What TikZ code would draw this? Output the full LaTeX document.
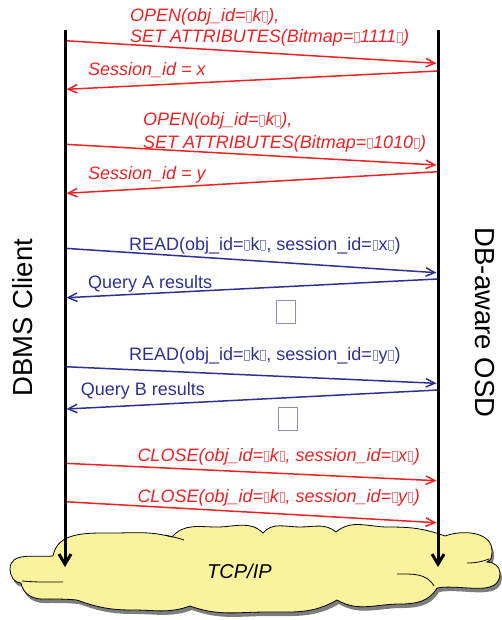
\documentclass[tikz,border=0pt]{standalone}
\usepackage{fontspec}
\setmainfont{Liberation Sans}
\usetikzlibrary{arrows.meta}
\definecolor{msgred}{RGB}{237,34,36}
\definecolor{msgblue}{RGB}{46,49,146}
\definecolor{cloudyellow}{RGB}{250,243,157}
\definecolor{cloudshadow}{RGB}{125,125,125}
\newcommand\ndbox{\kern0.7pt{\color{.!55}\vrule width .45pt height 10.5pt depth 0pt\vbox to 10.5pt{\hrule height .45pt width 4.2pt\vfil\hrule height .45pt width 4.2pt}\vrule width .45pt height 10.5pt depth 0pt}\kern1pt}
\newcommand\cloudoutline{(53,-556) to[out=80,in=180] (112,-533) to[out=0,in=165] (172,-537)
  to[out=50,in=180] (217,-527) to[out=0,in=135] (263,-533)
  to[out=50,in=180] (300,-527) to[out=0,in=140] (336,-532)
  to[out=40,in=180] (388,-527) to[out=0,in=160] (445,-536)
  to[out=20,in=90] (492,-551) to[out=-90,in=20] (487,-562)
  to[out=0,in=90] (500,-573) to[out=-90,in=10] (437,-588)
  to[out=-120,in=0] (400,-604) to[out=180,in=-30] (337,-600)
  to[out=-150,in=0] (267,-612) to[out=180,in=-20] (190,-606)
  to[out=-160,in=0] (133,-610) to[out=180,in=-20] (77,-600)
  to[out=175,in=0] (42,-599) to[out=180,in=-80] (21,-583)
  to[out=180,in=-90] (10,-569) to[out=90,in=185] cycle}
\begin{document}
\begin{tikzpicture}[x=1pt,y=1pt,
  lifeline/.style={line width=3pt,-{Straight Barb[length=10pt,width=12pt]}},
  redmsg/.style={draw=msgred,line width=1.5pt,-{Straight Barb[length=9pt,width=8.5pt]}},
  bluemsg/.style={draw=msgblue,line width=1.5pt,-{Straight Barb[length=9pt,width=8.5pt]}},
  redtxt/.style={text=msgred,font=\fontsize{18}{21}\selectfont\itshape,anchor=base west,inner sep=0pt},
  bluetxt/.style={text=msgblue,font=\fontsize{18}{21}\selectfont,anchor=base west,inner sep=0pt},
  sidelabel/.style={font=\fontsize{27.5}{30}\selectfont,inner sep=0pt},
  ndglyph/.style={draw=msgblue!55,line width=.8pt,minimum width=19pt,minimum height=22.7pt,inner sep=0pt},
  cloudline/.style={draw=black,line width=.8pt}]
\useasboundingbox (0,0) rectangle (501,-620);
% cloud
\fill[cloudshadow,shift={(2,-4)}] \cloudoutline;
\path[fill=cloudyellow,cloudline] \cloudoutline;
\draw[cloudline] (22,-581) to[out=-5,in=180] (63,-582);
\draw[cloudline] (165,-535) to[out=-15,in=160] (184,-540);
\draw[cloudline] (467,-563) to[out=0,in=200] (489,-559);
\draw[cloudline] (397,-574) to[out=0,in=120] (434,-586);
\node[font=\fontsize{20}{24}\selectfont\itshape,anchor=base west,inner sep=0pt] (tcp) at (207,-578) {TCP/IP};
% lifeline ends
\coordinate (ctop) at (65,-30);  \coordinate (cbot) at (65,-567);
\coordinate (otop) at (438,-30); \coordinate (obot) at (438,-567);
% message end points
\coordinate (m1s) at (65,-40.7);    \coordinate (m1e) at (436.5,-63.3);
\coordinate (m2s) at (438,-71);     \coordinate (m2e) at (66.5,-89.3);
\coordinate (m3s) at (65,-144.3);   \coordinate (m3e) at (436.5,-165);
\coordinate (m4s) at (438,-171.7);  \coordinate (m4e) at (66.5,-193.3);
\coordinate (m5s) at (65,-248.3);   \coordinate (m5e) at (436.5,-272.7);
\coordinate (m6s) at (438,-279);    \coordinate (m6e) at (66.5,-297.7);
\coordinate (m7s) at (65,-366.7);   \coordinate (m7e) at (436.5,-383.3);
\coordinate (m8s) at (438,-390);    \coordinate (m8e) at (66.5,-409);
\coordinate (m9s) at (65,-463.3);   \coordinate (m9e) at (436.5,-480.7);
\coordinate (m10s) at (65,-501.7);  \coordinate (m10e) at (436.5,-522.7);
% messages
\draw[redmsg] (m1s) -- (m1e);
\draw[redmsg] (m2s) -- (m2e);
\draw[redmsg] (m3s) -- (m3e);
\draw[redmsg] (m4s) -- (m4e);
\draw[bluemsg] (m5s) -- (m5e);
\draw[bluemsg] (m6s) -- (m6e);
\draw[bluemsg] (m7s) -- (m7e);
\draw[bluemsg] (m8s) -- (m8e);
\draw[redmsg] (m9s) -- (m9e);
\draw[redmsg] (m10s) -- (m10e);
% lifelines
\draw[lifeline] (ctop) -- (cbot);
\draw[lifeline] (otop) -- (obot);
% labels
\node[redtxt] (t1a) at (130,-22) {OPEN(obj\_id=\ndbox k\ndbox),};
\node[redtxt] (t1b) at (130,-42.7) {SET ATTRIBUTES(Bitmap=\ndbox 1111\ndbox)};
\node[redtxt] (t2) at (88,-76) {Session\_id = x};
\node[redtxt] (t3a) at (143,-126) {OPEN(obj\_id=\ndbox k\ndbox),};
\node[redtxt] (t3b) at (143,-148.3) {SET ATTRIBUTES(Bitmap=\ndbox 1010\ndbox)};
\node[redtxt] (t4) at (88,-180) {Session\_id = y};
\node[bluetxt] (t5) at (129,-250) {READ(obj\_id=\ndbox k\ndbox, session\_id=\ndbox x\ndbox)};
\node[bluetxt] (t6) at (88,-288.3) {Query A results};
\node[ndglyph] (gap1) at (286.2,-312) {};
\node[bluetxt] (t7) at (129,-360.7) {READ(obj\_id=\ndbox k\ndbox, session\_id=\ndbox y\ndbox)};
\node[bluetxt] (t8) at (80.7,-395.7) {Query B results};
\node[ndglyph] (gap2) at (287.5,-419) {};
\node[redtxt] (t9) at (137.3,-461.7) {CLOSE(obj\_id=\ndbox k\ndbox, session\_id=\ndbox x\ndbox)};
\node[redtxt] (t10) at (137.3,-502.7) {CLOSE(obj\_id=\ndbox k\ndbox, session\_id=\ndbox y\ndbox)};
\node[sidelabel,rotate=90] (client) at (23,-317.5) {DBMS Client};
\node[sidelabel,rotate=-90] (osd) at (485,-322.5) {DB-aware OSD};
\end{tikzpicture}
\end{document}
